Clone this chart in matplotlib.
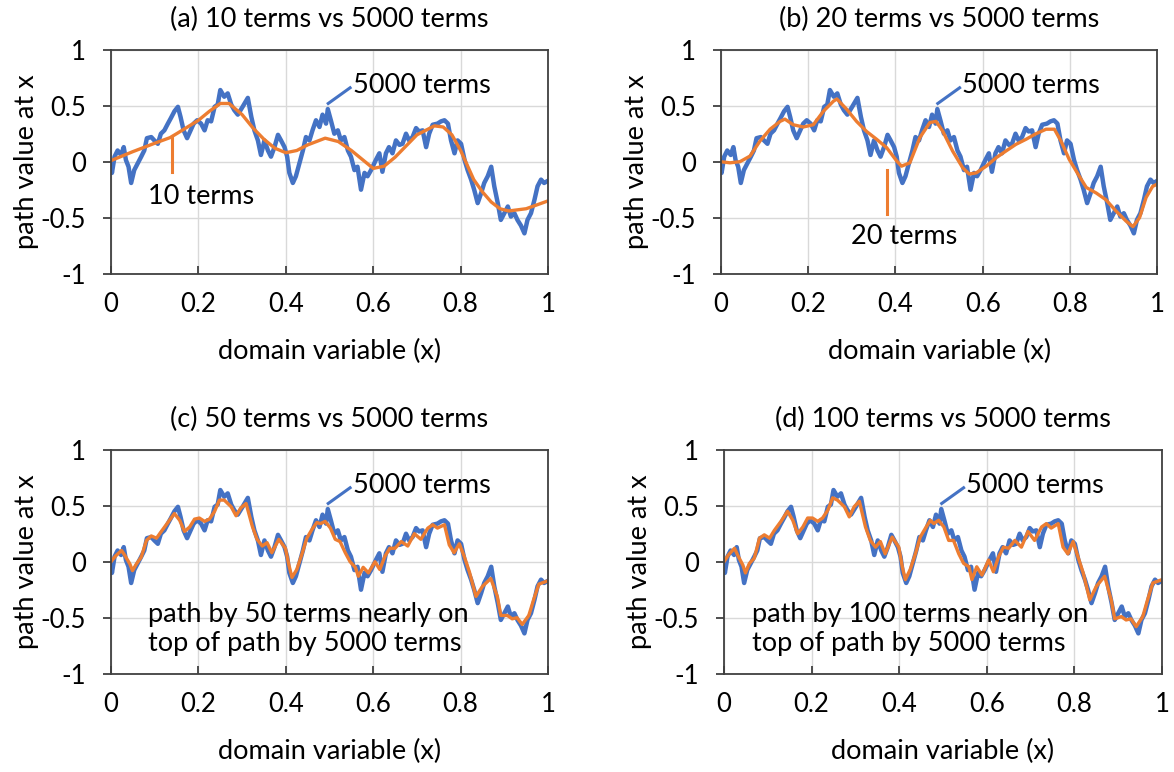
import matplotlib
matplotlib.use('Agg')
from matplotlib import pyplot as plt

plt.rcParams['font.family'] = ['Lato', 'DejaVu Sans']

# path by 5000 terms
x_5000 = [0, 0.002, 0.008, 0.015, 0.023, 0.029, 0.034, 0.040, 0.046, 0.053,
          0.061, 0.069, 0.076, 0.082, 0.092, 0.099, 0.107, 0.114, 0.122, 0.130,
          0.137, 0.145, 0.153, 0.159, 0.166, 0.174, 0.182, 0.189, 0.197, 0.206,
          0.214, 0.221, 0.229, 0.237, 0.244, 0.250, 0.259, 0.267, 0.275, 0.282,
          0.290, 0.301, 0.313, 0.321, 0.328, 0.336, 0.343, 0.351, 0.359, 0.366,
          0.374, 0.382, 0.389, 0.397, 0.403, 0.408, 0.416, 0.423, 0.431, 0.439,
          0.446, 0.454, 0.461, 0.469, 0.477, 0.484, 0.492, 0.496, 0.503, 0.511,
          0.519, 0.526, 0.534, 0.542, 0.549, 0.557, 0.564, 0.572, 0.580, 0.587,
          0.595, 0.606, 0.614, 0.621, 0.629, 0.636, 0.644, 0.652, 0.660, 0.667,
          0.675, 0.682, 0.690, 0.698, 0.705, 0.713, 0.721, 0.728, 0.736, 0.747,
          0.755, 0.763, 0.771, 0.778, 0.786, 0.793, 0.801, 0.809, 0.816, 0.824,
          0.831, 0.839, 0.847, 0.854, 0.862, 0.870, 0.877, 0.885, 0.892, 0.900,
          0.908, 0.915, 0.923, 0.930, 0.938, 0.946, 0.953, 0.961, 0.969, 0.976,
          0.984, 0.991, 1.0]
y_5000 = [0, -0.10, 0.045, 0.10, 0.06, 0.13, 0.015, -0.045, -0.19, -0.075,
          -0.015, 0.045, 0.10, 0.21, 0.22, 0.19, 0.16, 0.25, 0.28, 0.34,
          0.39, 0.45, 0.49, 0.40, 0.28, 0.21, 0.28, 0.34, 0.37, 0.34,
          0.28, 0.37, 0.36, 0.49, 0.51, 0.64, 0.58, 0.61, 0.51, 0.46,
          0.42, 0.49, 0.57, 0.40, 0.28, 0.19, 0.06, 0.19, 0.10, 0.045,
          0.13, 0.24, 0.19, 0.13, 0.045, -0.10, -0.19, -0.13, -0.015, 0.10,
          0.22, 0.19, 0.28, 0.37, 0.31, 0.42, 0.34, 0.47, 0.37, 0.25,
          0.28, 0.19, 0.22, 0.10, 0.045, -0.075, -0.045, -0.25, -0.10, -0.13,
          -0.075, 0.015, 0.075, -0.09, 0.075, 0.13, 0.075, 0.19, 0.15, 0.16,
          0.25, 0.19, 0.22, 0.30, 0.27, 0.28, 0.13, 0.25, 0.33, 0.34,
          0.36, 0.37, 0.34, 0.19, 0.075, 0.19, 0.16, 0.015, -0.075, -0.16,
          -0.25, -0.37, -0.28, -0.19, -0.13, -0.045, -0.22, -0.37, -0.52, -0.46,
          -0.40, -0.49, -0.46, -0.52, -0.57, -0.64, -0.52, -0.46, -0.34, -0.22,
          -0.16, -0.19, -0.17]

# path by 10 terms
x_10 = [0, 0.05, 0.10, 0.135, 0.15, 0.20, 0.225, 0.25, 0.27, 0.30, 0.325,
        0.35, 0.375, 0.40, 0.425, 0.45, 0.49, 0.52, 0.55, 0.575, 0.60, 0.625,
        0.65, 0.70, 0.74, 0.76, 0.78, 0.80, 0.83, 0.85, 0.87, 0.89, 0.91,
        0.95, 1.0]
y_10 = [0.01, 0.09, 0.165, 0.215, 0.25, 0.37, 0.45, 0.52, 0.52, 0.42, 0.30,
        0.20, 0.12, 0.08, 0.10, 0.15, 0.21, 0.18, 0.10, 0.02, -0.06, -0.04,
        0.04, 0.24, 0.32, 0.31, 0.24, 0.10, -0.16, -0.27, -0.36, -0.42, -0.44,
        -0.42, -0.35]

# path by 20 terms
x_20 = [0, 0.021, 0.044, 0.067, 0.090, 0.113, 0.136, 0.147, 0.166, 0.189,
        0.212, 0.235, 0.258, 0.266, 0.288, 0.311, 0.334, 0.357, 0.380, 0.403,
        0.414, 0.433, 0.456, 0.479, 0.493, 0.508, 0.531, 0.554, 0.569, 0.585,
        0.608, 0.631, 0.653, 0.676, 0.699, 0.722, 0.745, 0.764, 0.779, 0.798,
        0.818, 0.837, 0.860, 0.882, 0.905, 0.928, 0.944, 0.959, 0.974, 0.989,
        1.0]
y_20 = [0, -0.01, 0, 0.05, 0.185, 0.29, 0.36, 0.38, 0.33, 0.31,
        0.33, 0.45, 0.54, 0.56, 0.47, 0.36, 0.27, 0.20, 0.125, 0.006,
        -0.04, -0.01, 0.215, 0.35, 0.36, 0.275, 0.095, -0.054, -0.11, -0.10,
        -0.04, 0.036, 0.095, 0.155, 0.20, 0.25, 0.29, 0.29, 0.185, 0.02,
        -0.11, -0.23, -0.28, -0.34, -0.44, -0.53, -0.58, -0.50, -0.32, -0.22,
        -0.20]

# path by 50 terms
x_50 = [0, 0.01, 0.024, 0.031, 0.043, 0.049, 0.058, 0.069, 0.081, 0.092,
        0.104, 0.115, 0.130, 0.145, 0.157, 0.168, 0.180, 0.191, 0.202, 0.214,
        0.225, 0.237, 0.248, 0.259, 0.275, 0.286, 0.297, 0.309, 0.323, 0.334,
        0.346, 0.357, 0.368, 0.384, 0.399, 0.407, 0.414, 0.425, 0.437, 0.448,
        0.460, 0.471, 0.479, 0.490, 0.502, 0.513, 0.524, 0.536, 0.547, 0.559,
        0.566, 0.577, 0.589, 0.604, 0.615, 0.627, 0.638, 0.650, 0.664, 0.679,
        0.694, 0.709, 0.725, 0.736, 0.747, 0.763, 0.774, 0.785, 0.797, 0.808,
        0.820, 0.835, 0.850, 0.869, 0.884, 0.892, 0.907, 0.918, 0.929, 0.941,
        0.956, 0.967, 0.979, 1.0]
y_50 = [0, 0.05, 0.10, 0.06, -0.02, -0.08, -0.02, 0.04, 0.19, 0.23,
        0.21, 0.27, 0.35, 0.43, 0.37, 0.27, 0.31, 0.38, 0.39, 0.36,
        0.38, 0.45, 0.55, 0.55, 0.49, 0.41, 0.48, 0.52, 0.32, 0.20,
        0.14, 0.17, 0.08, 0.20, 0.12, -0.03, -0.14, -0.07, 0.07, 0.21,
        0.29, 0.35, 0.34, 0.36, 0.30, 0.20, 0.18, 0.08, 0.0, -0.05,
        -0.13, -0.05, -0.10, 0.0, -0.07, 0.05, 0.12, 0.12, 0.18, 0.14,
        0.25, 0.20, 0.30, 0.33, 0.30, 0.33, 0.15, 0.08, 0.16, 0.05,
        -0.09, -0.31, -0.22, -0.15, -0.31, -0.48, -0.48, -0.51, -0.50, -0.56,
        -0.48, -0.34, -0.20, -0.17]

# path by 100 terms
x_100 = [0, 0.01, 0.024, 0.031, 0.043, 0.049, 0.058, 0.069, 0.081, 0.092,
         0.104, 0.115, 0.130, 0.145, 0.157, 0.168, 0.180, 0.191, 0.202, 0.214,
         0.225, 0.237, 0.248, 0.259, 0.275, 0.286, 0.297, 0.309, 0.323, 0.334,
         0.346, 0.357, 0.368, 0.384, 0.399, 0.407, 0.414, 0.425, 0.437, 0.448,
         0.460, 0.471, 0.479, 0.490, 0.502, 0.513, 0.524, 0.536, 0.547, 0.559,
         0.566, 0.577, 0.589, 0.604, 0.615, 0.627, 0.638, 0.650, 0.664, 0.679,
         0.694, 0.709, 0.725, 0.736, 0.747, 0.763, 0.774, 0.785, 0.797, 0.808,
         0.820, 0.835, 0.850, 0.869, 0.884, 0.892, 0.907, 0.918, 0.929, 0.941,
         0.956, 0.967, 0.979, 1.0]
y_100 = [0, 0.06, 0.12, 0.06, -0.03, -0.10, -0.015, 0.03, 0.21, 0.24,
         0.21, 0.28, 0.36, 0.45, 0.37, 0.25, 0.31, 0.39, 0.39, 0.36,
         0.39, 0.46, 0.57, 0.55, 0.49, 0.40, 0.49, 0.54, 0.31, 0.19,
         0.13, 0.18, 0.07, 0.22, 0.13, -0.045, -0.16, -0.07, 0.07, 0.22,
         0.30, 0.37, 0.34, 0.37, 0.31, 0.19, 0.19, 0.07, -0.015, -0.045,
         -0.16, -0.045, -0.12, 0.015, -0.09, 0.045, 0.13, 0.12, 0.19, 0.13,
         0.27, 0.19, 0.31, 0.34, 0.30, 0.34, 0.13, 0.07, 0.18, 0.045,
         -0.10, -0.34, -0.22, -0.13, -0.34, -0.51, -0.49, -0.52, -0.51, -0.58,
         -0.49, -0.34, -0.19, -0.16]

titles = ['(a) 10 terms vs 5000 terms', '(b) 20 terms vs 5000 terms',
          '(c) 50 terms vs 5000 terms', '(d) 100 terms vs 5000 terms']
xticks = [0, 0.2, 0.4, 0.6, 0.8, 1]
xticklabels = ['0', '0.2', '0.4', '0.6', '0.8', '1']
yticks = [-1, -0.5, 0, 0.5, 1]
yticklabels = ['-1', '-0.5', '0', '0.5', '1']

blue = '#4472C4'
orange = '#ED7D31'
fs = 19.5

fig = plt.figure(figsize = (11.74, 7.72), dpi = 100)
boxes = [
    [0.0946, 0.6455, 0.3722, 0.2901],
    [0.6139, 0.6455, 0.3720, 0.2901],
    [0.0946, 0.1273, 0.3722, 0.2902],
    [0.6167, 0.1273, 0.3731, 0.2902],
    ]
approx = [(x_10, y_10), (x_20, y_20), (x_50, y_50), (x_100, y_100)]

axes = []
for i, box in enumerate(boxes):
    ax = fig.add_axes(box)
    ax.plot(x_5000, y_5000, color = blue, lw = 3.2, solid_joinstyle = 'round')
    xa, ya = approx[i]
    ax.plot(xa, ya, color = orange, lw = 2.4, solid_joinstyle = 'round')
    ax.set_xlim(0, 1)
    ax.set_ylim(-1, 1)
    ax.set_xticks(xticks)
    ax.set_xticklabels(xticklabels)
    ax.set_yticks(yticks)
    ax.set_yticklabels(yticklabels)
    ax.grid(True, color = '#d9d9d9', lw = 1.0)
    ax.set_axisbelow(True)
    for s in ax.spines.values():
        s.set_color('#404040')
        s.set_linewidth(1.3)
    ax.tick_params(axis = 'x', direction = 'in', length = 6, width = 1.3,
                   color = '#404040', pad = 13, labelsize = 18.5)
    ax.tick_params(axis = 'y', direction = 'out', length = 6, width = 1.3,
                   color = '#404040', pad = 12, labelsize = 18.5)
    ax.set_title(titles[i], fontsize = fs, pad = 16)
    ax.set_xlabel('domain variable (x)', fontsize = fs)
    ax.xaxis.set_label_coords(0.5, -0.29)
    ax.set_ylabel('path value at x', fontsize = fs)
    ax.yaxis.set_label_coords(-0.165, 0.5)
    axes.append(ax)

# labels for the 5000 terms path
for ax in axes:
    ax.plot([0.497, 0.547], [0.52, 0.66], color = blue, lw = 2.2)
    ax.text(0.553, 0.68, '5000 terms', fontsize = fs, va = 'center', ha = 'left')

ax = axes[0]
ax.plot([0.139, 0.139], [0.21, -0.09], color = orange, lw = 2.2)
ax.text(0.205, -0.31, '10 terms', fontsize = fs, va = 'center', ha = 'center')

ax = axes[1]
ax.plot([0.38, 0.38], [-0.075, -0.47], color = orange, lw = 2.2)
ax.text(0.42, -0.665, '20 terms', fontsize = fs, va = 'center', ha = 'center')

axes[2].text(0.084, -0.6, 'path by 50 terms nearly on\ntop of path by 5000 terms',
             fontsize = fs, va = 'center', ha = 'left', linespacing = 1.2)
axes[3].text(0.064, -0.6, 'path by 100 terms nearly on\ntop of path by 5000 terms',
             fontsize = fs, va = 'center', ha = 'left', linespacing = 1.2)

plt.savefig('out.png', dpi = 100)
